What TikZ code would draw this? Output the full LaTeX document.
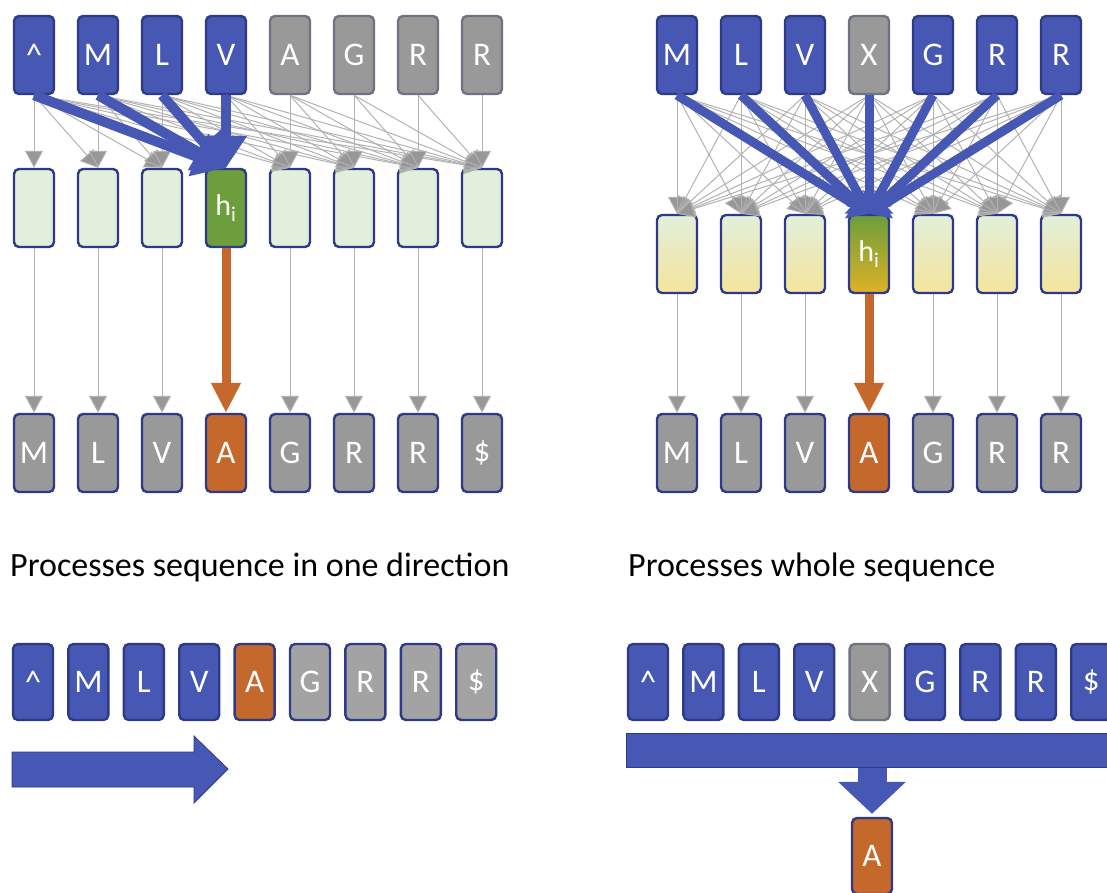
\documentclass[tikz,border=0pt]{standalone}
\usepackage{fontspec}
\setmainfont{Carlito}
\usepackage{xcolor}
\usetikzlibrary{arrows.meta}

\definecolor{tokblue}{HTML}{4757B4}
\definecolor{edgeblue}{HTML}{2E3A87}
\definecolor{tokgray}{HTML}{999999}
\definecolor{edgegray}{HTML}{6E7384}
\definecolor{linkgray}{HTML}{B2B2B2}
\definecolor{outorange}{HTML}{C4692B}
\definecolor{hidgreen}{HTML}{6C9E3C}
\definecolor{palegreen}{HTML}{E2EFDA}
\definecolor{paleyellow}{HTML}{F5E49D}
\definecolor{hidgold}{HTML}{DEB226}

\tikzset{
        tok/.style={draw=edgeblue, line width=2.4pt, rounded corners=5pt,
                minimum width=40pt, minimum height=78pt, inner sep=0pt,
                text=white, font=\fontsize{33pt}{36pt}\selectfont},
        bluetok/.style={tok, fill=tokblue},
        graytok/.style={tok, fill=tokgray},
        dimtok/.style={tok, fill=tokgray, draw=edgegray},
        orangetok/.style={tok, fill=outorange},
        lowtok/.style={minimum height=76pt},
        hidbox/.style={tok, fill=palegreen},
        hidshade/.style={tok, top color=palegreen, bottom color=paleyellow},
        hidcur/.style={tok, fill=hidgreen, font=\fontsize{30pt}{32pt}\selectfont},
        hidcurshade/.style={tok, top color=hidgreen, bottom color=hidgold,
                font=\fontsize{30pt}{32pt}\selectfont},
        graylink/.style={draw=linkgray, line width=1pt,
                -{Triangle[width=18pt, length=17pt, fill=linkgray!85!black]}},
        bluelink/.style={draw=tokblue, line width=10pt,
                -{Triangle[width=40pt, length=32pt]}},
        bluelinkr/.style={draw=tokblue, line width=9pt,
                -{Triangle[width=32pt, length=18pt]}},
        orangelink/.style={draw=outorange, line width=9pt,
                -{Triangle[width=28pt, length=30pt]}},
        fatdown/.style={draw=tokblue, line width=29pt,
                -{Triangle[width=66pt, length=32pt]}},
        caption/.style={anchor=base west, inner sep=0pt,
                font=\fontsize{34pt}{40pt}\selectfont},
}

\begin{document}
\begin{tikzpicture}[x=1pt, y=-1pt]
        \useasboundingbox (0,0) rectangle (1107,892);
        \clip (0,0) rectangle (1107,892);

        \foreach \lab [count=\i] in {\textasciicircum, M, L, V}
                \node[bluetok] (lt\i) at ({34+64*(\i-1)}, 55) {\lab};
        \foreach \lab [count=\i from 5] in {A, G, R, R}
                \node[dimtok] (lt\i) at ({34+64*(\i-1)}, 55) {\lab};
        \foreach \i in {1,2,3,5,6,7,8}
                \node[hidbox] (lm\i) at ({34+64*(\i-1)}, 208) {};
        \node[hidcur] (lm4) at (226, 208) {h\textsubscript{i}};
        \foreach \lab [count=\i] in {M, L, V}
                \node[graytok] (lb\i) at ({34+64*(\i-1)}, 453) {\lab};
        \node[orangetok] (lb4) at (226, 453) {A};
        \foreach \lab [count=\i from 5] in {G, R, R, \$}
                \node[graytok] (lb\i) at ({34+64*(\i-1)}, 453) {\lab};

        \foreach \i in {1,...,8}
                \foreach \j in {\i,...,8}
                        \draw[graylink] (lt\i.south) -- (lm\j.north);
        \foreach \i in {1,...,4}
                \draw[bluelink] (lt\i.south) -- (lm4.north);
        \foreach \i in {1,2,3,5,6,7,8}
                \draw[graylink] (lm\i.south) -- (lb\i.north);
        \draw[orangelink] (lm4.south) -- (lb4.north);

        \foreach \lab [count=\i] in {M, L, V}
                \node[bluetok] (rt\i) at ({677+64*(\i-1)}, 55) {\lab};
        \node[dimtok] (rt4) at (869, 55) {X};
        \foreach \lab [count=\i from 5] in {G, R, R}
                \node[bluetok] (rt\i) at ({677+64*(\i-1)}, 55) {\lab};
        \foreach \i in {1,2,3,5,6,7}
                \node[hidshade] (rm\i) at ({677+64*(\i-1)}, 254) {};
        \node[hidcurshade] (rm4) at (869, 254) {h\textsubscript{i}};
        \foreach \lab [count=\i] in {M, L, V}
                \node[graytok] (rb\i) at ({677+64*(\i-1)}, 453) {\lab};
        \node[orangetok] (rb4) at (869, 453) {A};
        \foreach \lab [count=\i from 5] in {G, R, R}
                \node[graytok] (rb\i) at ({677+64*(\i-1)}, 453) {\lab};

        \foreach \i in {1,...,7}
                \foreach \j in {1,...,7}
                        \draw[graylink] (rt\i.south) -- (rm\j.north);
        \foreach \i in {1,...,7}
                \draw[bluelinkr] (rt\i.south) -- (rm4.north);
        \foreach \i in {1,2,3,5,6,7}
                \draw[graylink] (rm\i.south) -- (rb\i.north);
        \draw[orangelink] (rm4.south) -- (rb4.north);

        \node[caption] (capl) at (10, 576) {Processes sequence in one direction};
        \node[caption] (capr) at (628, 576) {Processes whole sequence};

        \foreach \lab [count=\i] in {\textasciicircum, M, L, V}
                \node[bluetok, lowtok] (sl\i) at ({33+55.4*(\i-1)}, 682) {\lab};
        \node[orangetok, lowtok] (sl5) at (254.6, 682) {A};
        \foreach \lab [count=\i from 6] in {G, R, R, \$}
                \node[graytok, lowtok, fill=tokgray!90!white] (sl\i) at ({33+55.4*(\i-1)}, 682) {\lab};
        \draw[draw=edgeblue, fill=tokblue, line width=0.8pt]
                (12, 752) -- (194, 752) -- (194, 736) -- (228, 769)
                -- (194, 803) -- (194, 787) -- (12, 787) -- cycle;

        \foreach \lab [count=\i] in {\textasciicircum, M, L, V}
                \node[bluetok, lowtok] (sr\i) at ({648+55.4*(\i-1)}, 682) {\lab};
        \node[dimtok, lowtok] (sr5) at (869.6, 682) {X};
        \foreach \lab [count=\i from 6] in {G, R, R, \$}
                \node[bluetok, lowtok] (sr\i) at ({648+55.4*(\i-1)}, 682) {\lab};
        \node[draw=edgeblue, fill=tokblue, line width=0.8pt, anchor=north west,
                minimum width=520pt, minimum height=34pt, inner sep=0pt] (bar) at (626, 733) {};
        \node[orangetok, lowtok] (wa) at (872, 856) {A};
        \draw[fatdown, shorten >=3pt] (bar.south -| wa.north) -- (wa.north);
\end{tikzpicture}
\end{document}
